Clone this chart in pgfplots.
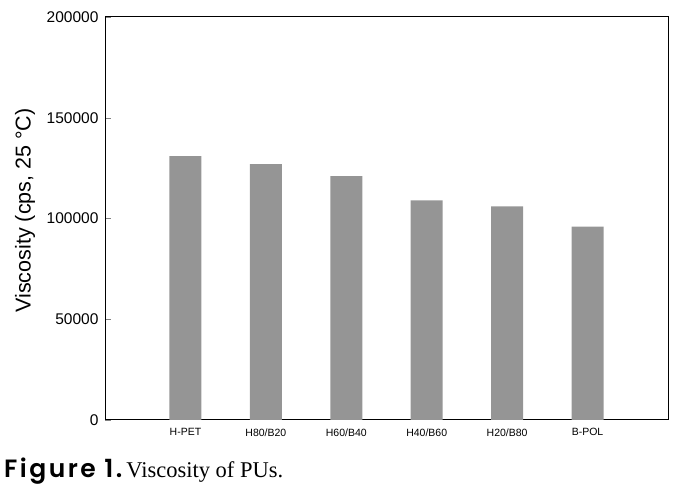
\documentclass[border=0pt]{standalone}
\usepackage{fontspec}
\setmainfont{Liberation Sans}
\newfontfamily\capsans{Poppins}[UprightFont={* SemiBold}, LetterSpace=10]
\newfontfamily\capserif{Liberation Serif}
\usepackage{pgfplots}
\pgfplotsset{compat=1.18}
\definecolor{bargray}{HTML}{959595}
\begin{document}
\begin{tikzpicture}[x=1pt,y=1pt]
\useasboundingbox (0,0) rectangle (688,494);
\begin{axis}[
  at={(105pt,74pt)}, anchor=south west,
  scale only axis, width=563pt, height=403pt,
  xmin=-1, xmax=6, ymin=0, ymax=200000,
  xtick={0,1,2,3,4,5},
  xticklabels={H-PET,H80/B20,H60/B40,H40/B60,H20/B80,B-POL},
  x tick label style={font=\fontsize{10.5}{12}\selectfont, yshift=-5pt},
  major x tick style={draw=none},
  ytick={0,50000,100000,150000,200000},
  yticklabels={0,50000,100000,150000,200000},
  scaled y ticks=false,
  y tick label style={font=\fontsize{15.5}{17}\selectfont, xshift=-3pt},
  ytick pos=left, tick align=inside,
  major tick length=6pt,
  axis line style={black, line width=1pt},
  ylabel={Viscosity (cps, 25 \textdegree C)},
  ylabel style={font=\fontsize{21.5}{24}\selectfont, at={(axis description cs:-0.142,0.52)}, anchor=center},
]
\addplot[ybar, bar width=32pt, fill=bargray, draw=none] coordinates {
(0,131000) (1,127000) (2,121000) (3,109000) (4,106000) (5,96000)};
\end{axis}
\node[anchor=base west, inner sep=0pt] at (4,16) {{\capsans\fontsize{25}{28}\selectfont Figure 1.}\hspace{4pt}{\capserif\fontsize{22.5}{26}\selectfont Viscosity of PUs.}};
\end{tikzpicture}
\end{document}
